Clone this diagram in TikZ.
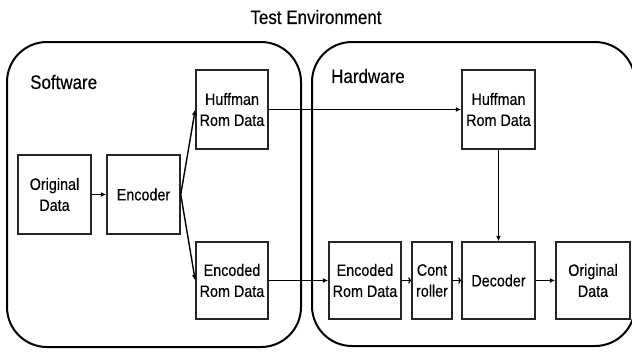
\documentclass[tikz,border=0pt]{standalone}
\usepackage{fontspec}
\setmainfont{Liberation Sans}[FakeStretch=0.87,FakeBold=0.4]
\usetikzlibrary{arrows.meta}
\tikzset{
  box/.style={draw=black!85, line width=1.5pt, inner sep=0pt, align=center,
    font=\fontsize{16.5}{21}\selectfont},
  group/.style={draw=black, line width=2pt, rounded corners=40pt},
  label/.style={inner sep=0pt, font=\fontsize{19.5}{23}\selectfont},
  flow/.style={line width=1.4pt, -{Latex[length=5.5pt,width=5pt]}},
  thin flow/.style={line width=1.2pt, -{To[length=3pt,width=6.5pt]}}
}
\begin{document}
\begin{tikzpicture}[x=1pt,y=-1pt]
\useasboundingbox (0,0) rectangle (632,354);
\clip (0,0) rectangle (632,354);
\fill[white] (0,0) rectangle (632,354);

% enclosing groups
\draw[group] (7,42) rectangle (301,347);
\draw[group] (312,42) rectangle (635,346);

\node[label] (title) at (316,17) {Test Environment};
\node[label, anchor=west] (sw) at (30,82) {Software};
\node[label, anchor=west] (hw) at (331,76) {Hardware};

% software side
\node[box, minimum width=73pt, minimum height=79pt] (od1) at (54.5,194.5) {Original\\Data};
\node[box, minimum width=73pt, minimum height=79pt] (enc) at (143.5,194.5) {Encoder};
\node[box, minimum width=72pt, minimum height=79pt] (huf1) at (232,109.5) {Huffman\\Rom Data};
\node[box, minimum width=72pt, minimum height=77pt] (encr1) at (232,280.5) {Encoded\\Rom Data};

% hardware side
\node[box, minimum width=73pt, minimum height=79pt] (huf2) at (498.5,109.5) {Huffman\\Rom Data};
\node[box, minimum width=72pt, minimum height=77pt] (encr2) at (365,280.5) {Encoded\\Rom Data};
\node[box, minimum width=40pt, minimum height=77pt] (ctrl) at (432,280.5) {Cont\\roller};
\node[box, minimum width=73pt, minimum height=77pt] (dec) at (498.5,280.5) {Decoder};
\node[box, minimum width=74pt, minimum height=77pt] (od2) at (593,280.5) {Original\\Data};

% connectors
\draw[flow] (od1) -- (enc);
\draw[flow] (enc.east) -- (huf1.west);
\draw[flow] (enc.east) -- (encr1.west);
\draw[flow] (huf1) -- (huf2);
\draw[flow] (encr1) -- (encr2);
\draw[thin flow] (encr2) -- (ctrl);
\draw[thin flow] (ctrl) -- (dec);
\draw[flow] (dec) -- (od2);
\draw[flow] (huf2) -- (dec);
\end{tikzpicture}
\end{document}
